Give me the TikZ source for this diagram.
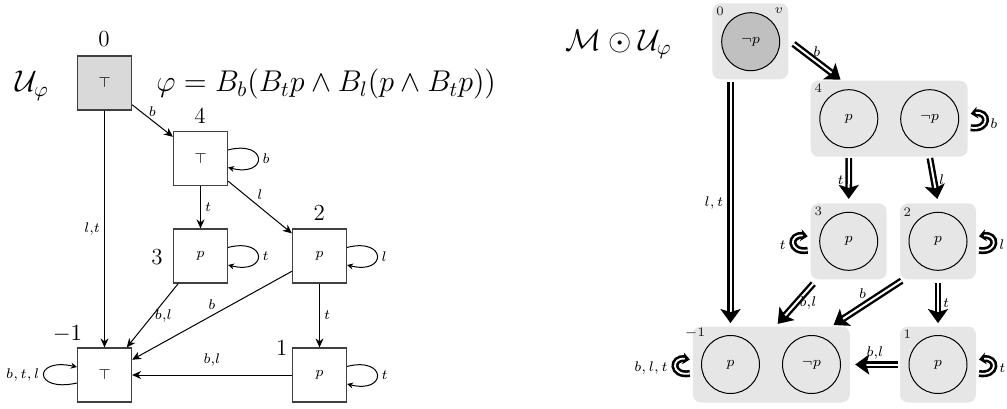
\RequirePackage{fix-cm}
\documentclass[tikz,border=0pt]{standalone}
\usetikzlibrary{arrows.meta,calc}
\definecolor{boxgray}{HTML}{E6E6E6}
\definecolor{leftgray}{HTML}{D9D9D9}
\definecolor{circgray}{HTML}{C0C0C0}
\definecolor{edgegray}{HTML}{404040}
\tikzset{
 world/.style={draw=edgegray, line width=0.6pt, minimum size=27pt, inner sep=0pt, font=\fontsize{7}{8}\selectfont},
 bignum/.style={font=\fontsize{11.5}{13}\selectfont, inner sep=0pt},
 big/.style={font=\fontsize{15}{18}\selectfont, inner sep=0pt},
 lbl/.style={font=\fontsize{7}{8}\selectfont, inner sep=2pt},
 arr/.style={line width=0.5pt, -{Stealth[length=4.5pt,width=4pt]}},
 loopar/.style={line width=0.5pt, -{Stealth[length=3pt,width=3pt]}},
 gbox/.style={fill=boxgray, rounded corners=4pt, inner sep=0pt, minimum height=38pt},
 wcirc/.style={circle, draw, line width=0.5pt, minimum size=29pt, inner sep=0pt, font=\fontsize{7}{8}\selectfont},
 corner/.style={font=\fontsize{6.5}{7}\selectfont, inner sep=0pt, text=black!90},
 dbl/.style={double, double distance=1pt, line width=1.2pt, -{Stealth[length=7pt,width=10pt,inset=1.5pt]}},
 dloop/.style={double, double distance=0.9pt, line width=1.3pt, -{Stealth[length=3.5pt,width=6pt]}},
}
\begin{document}
\begin{tikzpicture}[x=0.5pt,y=-0.5pt]
\useasboundingbox (0,0) rectangle (1007,408);
% ---------------- left diagram ----------------
\node[big, anchor=base west] (U) at (15,91.7) {$\mathcal{U}_\varphi$};
\node[big, anchor=base west] (F) at (156,91.7) {$\varphi = B_b(B_tp \wedge B_l(p \wedge B_tp))$};
\node[world, fill=leftgray] (L0) at (104.5,83) {$\top$};
\node[world] (L4) at (200.5,158.5) {$\top$};
\node[world] (L3) at (200.5,256) {$p$};
\node[world] (L2) at (319.5,256) {$p$};
\node[world] (L1) at (319.5,375) {$p$};
\node[world] (Lm) at (104.5,375) {$\top$};
\node[bignum] (n0) at (104,39) {0};
\node[bignum] (n4) at (200,116) {4};
\node[bignum] (n3) at (157,257) {3};
\node[bignum] (n2) at (319.3,212.5) {2};
\node[bignum] (n1) at (281.7,348.3) {1};
\node[bignum] (nm) at (67.5,334) {$-1$};
\draw[arr] (L0) -- (L4) node[lbl, midway, above] {$b$};
\draw[arr] (L0) -- (Lm) node[lbl, midway, left] {$l$,$t$};
\draw[arr] (L4) -- (L3) node[lbl, midway, right] {$t$};
\draw[arr] (L4) -- (L2) node[lbl, midway, above=1.5pt] {$l$};
\draw[arr] (L3) -- (Lm) node[lbl, midway, right, xshift=-1pt] {$b$,$l$};
\draw[arr] (L2) -- (Lm) node[lbl, midway, above=1pt] {$b$};
\draw[arr] (L2) -- (L1) node[lbl, midway, right] {$t$};
\draw[arr] (L1) -- (Lm) node[lbl, midway, above=2pt] {$b$,$l$};
\draw[loopar] ([yshift=4.3pt]L4.east) .. controls +(20pt,5pt) and +(20pt,-5pt) .. ([yshift=-4.5pt]L4.east) node[lbl, pos=0.5, right] {$b$};
\draw[loopar] ([yshift=4.3pt]L3.east) .. controls +(20pt,5pt) and +(20pt,-5pt) .. ([yshift=-4.5pt]L3.east) node[lbl, pos=0.5, right] {$t$};
\draw[loopar] ([yshift=4.3pt]L2.east) .. controls +(20pt,5pt) and +(20pt,-5pt) .. ([yshift=-4.5pt]L2.east) node[lbl, pos=0.5, right] {$l$};
\draw[loopar] ([yshift=4.3pt]L1.east) .. controls +(20pt,5pt) and +(20pt,-5pt) .. ([yshift=-4.5pt]L1.east) node[lbl, pos=0.5, right] {$t$};
\draw[loopar] ([yshift=-4pt]Lm.west) .. controls +(-22pt,-5pt) and +(-22pt,5pt) .. ([yshift=4pt]Lm.west) node[lbl, pos=0.5, left] {$b,t,l$};
% ---------------- right diagram ----------------
\node[big, anchor=base west] (MU) at (565,50) {$\mathcal{M}\odot\mathcal{U}_\varphi$};
\node[gbox, minimum width=38pt] (R0) at (750.3,41.3) {};
\node[gbox, minimum width=78.5pt] (R4) at (889.2,118.7) {};
\node[gbox, minimum width=38pt] (R3) at (848.7,241.3) {};
\node[gbox, minimum width=38pt] (R2) at (938,241.3) {};
\node[gbox, minimum width=78.5pt] (Rm) at (771.3,364.5) {};
\node[gbox, minimum width=38pt] (R1) at (938,364.5) {};
\node[wcirc, fill=circgray] (R0c) at (750.7,41.7) {$\neg p$};
\node[wcirc] (R41) at (848.8,118.7) {$p$};
\node[wcirc] (R42) at (929.7,118.7) {$\neg p$};
\node[wcirc] (R3c) at (848.7,241.3) {$p$};
\node[wcirc] (R2c) at (938,241.3) {$p$};
\node[wcirc] (Rm1) at (730.5,364.5) {$p$};
\node[wcirc] (Rm2) at (811.5,364.5) {$\neg p$};
\node[wcirc] (R1c) at (938,364.5) {$p$};
\node[corner] (c0) at (720,11) {0};
\node[corner] (cv) at (779,11) {$v$};
\node[corner] (c4) at (818.3,88) {4};
\node[corner] (c3) at (818.3,211.7) {3};
\node[corner] (c2) at (907.3,211.7) {2};
\node[corner] (cm) at (695,333) {$-1$};
\node[corner] (c1) at (907.3,334) {1};
\draw[dbl, shorten <=0.5pt, shorten >=0.5pt] ([xshift=2pt,yshift=-1pt]R0.east) -- ($(R4.north west)+(31,0)$) node[lbl, midway, above] {$b$};
\draw[dbl, shorten <=1pt, shorten >=1.5pt] (R0.south -| Rm1) -- (Rm.north -| Rm1) node[lbl, midway, left, xshift=-1pt] {$l, t$};
\draw[dbl, shorten <=0.5pt, shorten >=2pt] (R4.south -| R41) -- (R3.north) node[lbl, midway, left] {$t$};
\draw[dbl, shorten <=0.5pt, shorten >=2pt] (R4.south -| R42) -- (R2.north) node[lbl, midway, right] {$l$};
\draw[dbl, shorten >=1.5pt] ($(R3.south west)+(3,4)$) -- ($(Rm.north west)+(83.3,0)$) node[lbl, midway, right, yshift=1pt] {$b$,$l$};
\draw[dbl, shorten >=1pt] ($(R2.south west)+(2,1)$) -- ($(Rm.north east)+(-18.3,0)$) node[lbl, midway, above, xshift=-2pt] {$b$};
\draw[dbl, shorten <=1.5pt, shorten >=1.5pt] (R2.south) -- (R1.north) node[lbl, midway, right] {$t$};
\draw[dbl, shorten <=1pt, shorten >=2.5pt] (R1.west) -- (Rm.east) node[lbl, midway, above] {$b$,$l$};
% small loops
\draw[dloop] ([xshift=1.3pt,yshift=-4.5pt]R4.east) .. controls +(9.5pt,-1.5pt) and +(9.5pt,1.5pt) .. ([xshift=1.3pt,yshift=2.5pt]R4.east);
\node[lbl, anchor=west, inner sep=0pt] (l4t) at (990,123.3) {$b$};
\draw[dloop] ([xshift=1.3pt,yshift=-4.5pt]R2.east) .. controls +(9.5pt,-1.5pt) and +(9.5pt,1.5pt) .. ([xshift=1.3pt,yshift=2.5pt]R2.east);
\node[lbl, anchor=west, inner sep=0pt] (l2t) at (999,245) {$l$};
\draw[dloop] ([xshift=1.3pt,yshift=-4.5pt]R1.east) .. controls +(9.5pt,-1.5pt) and +(9.5pt,1.5pt) .. ([xshift=1.3pt,yshift=2.5pt]R1.east);
\node[lbl, anchor=west, inner sep=0pt] (l1t) at (999,368.3) {$t$};
\draw[dloop] ([xshift=-1.3pt,yshift=-4.5pt]R3.west) .. controls +(-9.5pt,-1.5pt) and +(-9.5pt,1.5pt) .. ([xshift=-1.3pt,yshift=2.5pt]R3.west);
\node[lbl, anchor=east, inner sep=0pt] (l3t) at (786,245) {$t$};
\draw[dloop] ([xshift=-1.3pt,yshift=-4.5pt]Rm.west) .. controls +(-9.5pt,-1.5pt) and +(-9.5pt,1.5pt) .. ([xshift=-1.3pt,yshift=2.5pt]Rm.west);
\node[lbl, anchor=east, inner sep=0pt] (lmt) at (668,368.3) {$b, l, t$};
\end{tikzpicture}
\end{document}
